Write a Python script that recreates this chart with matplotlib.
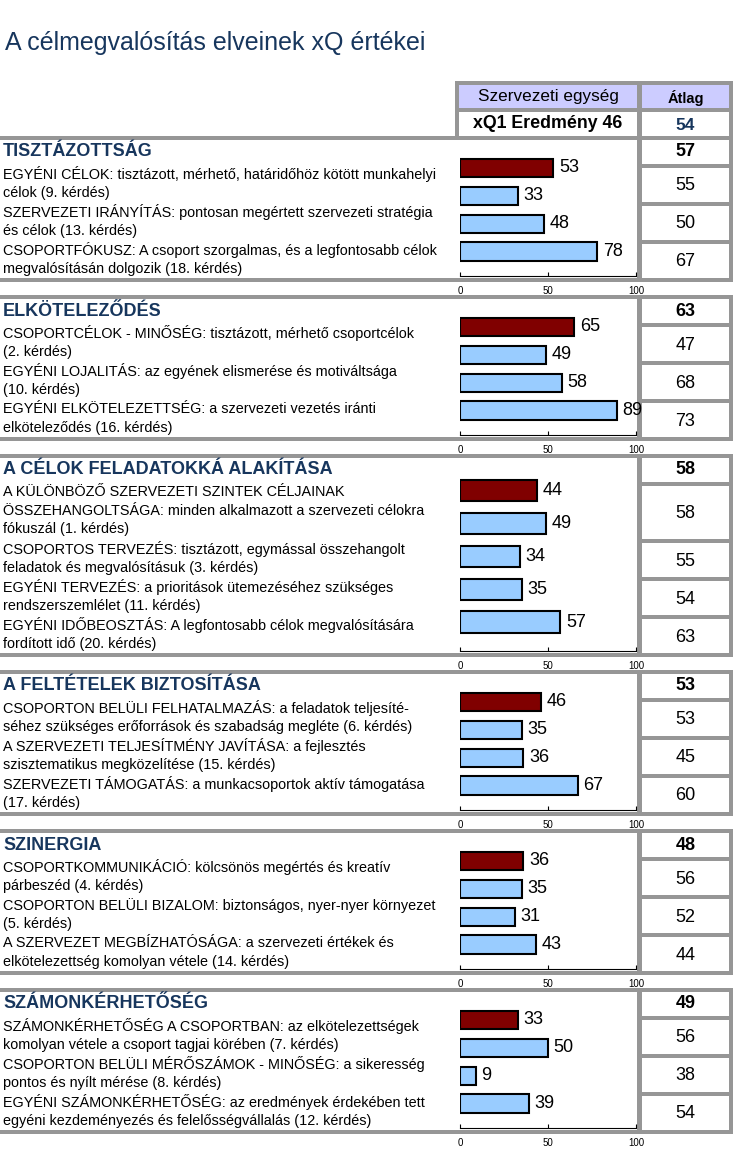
import matplotlib
matplotlib.use('Agg')
import matplotlib.pyplot as plt
from matplotlib.patches import Rectangle

plt.rcParams['font.family'] = ['Liberation Sans', 'DejaVu Sans']

# ---------------- data ----------------
chart_title = "A célmegvalósítás elveinek xQ értékei"
header_unit = "Szervezeti egység"
header_avg = "Átlag"
header_result = "xQ1 Eredmény 46"
overall_avg = 54

section_titles = [
    "TISZTÁZOTTSÁG",
    "ELKÖTELEZŐDÉS",
    "A CÉLOK FELADATOKKÁ ALAKÍTÁSA",
    "A FELTÉTELEK BIZTOSÍTÁSA",
    "SZINERGIA",
    "SZÁMONKÉRHETŐSÉG",
]
section_avgs = [57, 63, 58, 53, 48, 49]

item_texts = [
    [["EGYÉNI CÉLOK: tisztázott, mérhető, határidőhöz kötött munkahelyi", "célok (9. kérdés)"],
     ["SZERVEZETI IRÁNYÍTÁS: pontosan megértett szervezeti stratégia", "és célok (13. kérdés)"],
     ["CSOPORTFÓKUSZ: A csoport szorgalmas, és a legfontosabb célok", "megvalósításán dolgozik (18. kérdés)"]],
    [["CSOPORTCÉLOK - MINŐSÉG: tisztázott, mérhető csoportcélok", "(2. kérdés)"],
     ["EGYÉNI LOJALITÁS: az egyének elismerése és motiváltsága", "(10. kérdés)"],
     ["EGYÉNI ELKÖTELEZETTSÉG: a szervezeti vezetés iránti", "elköteleződés (16. kérdés)"]],
    [["A KÜLÖNBÖZŐ SZERVEZETI SZINTEK CÉLJAINAK", "ÖSSZEHANGOLTSÁGA: minden alkalmazott a szervezeti célokra", "fókuszál (1. kérdés)"],
     ["CSOPORTOS TERVEZÉS: tisztázott, egymással összehangolt", "feladatok és megvalósításuk (3. kérdés)"],
     ["EGYÉNI TERVEZÉS: a prioritások ütemezéséhez szükséges", "rendszerszemlélet (11. kérdés)"],
     ["EGYÉNI IDŐBEOSZTÁS: A legfontosabb célok megvalósítására", "fordított idő (20. kérdés)"]],
    [["CSOPORTON BELÜLI FELHATALMAZÁS: a feladatok teljesíté-", "séhez szükséges erőforrások és szabadság megléte (6. kérdés)"],
     ["A SZERVEZETI TELJESÍTMÉNY JAVÍTÁSA: a fejlesztés", "szisztematikus megközelítése (15. kérdés)"],
     ["SZERVEZETI TÁMOGATÁS: a munkacsoportok aktív támogatása", "(17. kérdés)"]],
    [["CSOPORTKOMMUNIKÁCIÓ: kölcsönös megértés és kreatív", "párbeszéd (4. kérdés)"],
     ["CSOPORTON BELÜLI BIZALOM: biztonságos, nyer-nyer környezet", "(5. kérdés)"],
     ["A SZERVEZET MEGBÍZHATÓSÁGA: a szervezeti értékek és", "elkötelezettség komolyan vétele (14. kérdés)"]],
    [["SZÁMONKÉRHETŐSÉG A CSOPORTBAN: az elkötelezettségek", "komolyan vétele a csoport tagjai körében (7. kérdés)"],
     ["CSOPORTON BELÜLI MÉRŐSZÁMOK - MINŐSÉG: a sikeresség", "pontos és nyílt mérése (8. kérdés)"],
     ["EGYÉNI SZÁMONKÉRHETŐSÉG: az eredmények érdekében tett", "egyéni kezdeményezés és felelősségvállalás (12. kérdés)"]],
]
item_avgs = [
    [55, 50, 67],
    [47, 68, 73],
    [58, 55, 54, 63],
    [53, 45, 60],
    [56, 52, 44],
    [56, 38, 54],
]
bar_values = [
    [53, 33, 48, 78],
    [65, 49, 58, 89],
    [44, 49, 34, 35, 57],
    [46, 35, 36, 67],
    [36, 35, 31, 43],
    [33, 50, 9, 39],
]
axis_ticks = [0, 50, 100]

# ---------------- style / layout ----------------
W, H = 752, 1166
GRAY = '#969696'
NAVY = '#17365D'
LAV = '#CCCCFF'
RED = '#800000'
BLUE = '#99CCFF'
B = 4          # border thickness (px)
HEAD_H = 24
LINE_H = 18.5
X_SEP = 637    # separator between bar area and average column
X_COL0, X_COL1 = 642, 729
X_RIGHT = 733
BAR_X0, BAR_X1 = 460, 636

fig = plt.figure(figsize=(W / 100, H / 100), dpi=100)
bg = fig.add_axes([0, 0, 1, 1], zorder=0)
bg.set_xlim(0, W)
bg.set_ylim(H, 0)
bg.axis('off')


def rect(x0, y0, x1, y1, color, z=1):
    bg.add_patch(Rectangle((x0, y0), x1 - x0, y1 - y0, facecolor=color,
                           edgecolor='none', zorder=z))


def px_axes(x0, y0, x1, y1, z=2):
    return fig.add_axes([x0 / W, 1 - y1 / H, (x1 - x0) / W, (y1 - y0) / H], zorder=z)


# title
bg.text(5, 43, chart_title, fontsize=18, color=NAVY, va='center', ha='left')

# header block
rect(455, 81, X_RIGHT, 140, GRAY)
rect(459, 85, X_SEP, 108, LAV, 2)
rect(X_COL0, 85, X_COL1, 108, LAV, 2)
rect(459, 112, X_SEP, 136, 'white', 2)
rect(X_COL0, 112, X_COL1, 136, 'white', 2)
bg.text((459 + X_SEP) / 2, 97, header_unit, fontsize=12.3, ha='center', va='center', zorder=3)
bg.text((X_COL0 + X_COL1) / 2, 97.5, header_avg, fontsize=10.5, fontweight='bold',
        ha='center', va='center', zorder=3)
bg.text((459 + X_SEP) / 2, 124, header_result, fontsize=12.8, fontweight='bold',
        ha='center', va='center', zorder=3)
bg.text((X_COL0 + X_COL1) / 2, 125, str(overall_avg), fontsize=12.5, fontweight='bold',
        color=NAVY, ha='center', va='center', zorder=3)

top = 136
for s in range(len(section_titles)):
    items = item_texts[s]
    heights = [34 if len(t) == 2 else 53 for t in items]
    total = B + HEAD_H + sum(B + h for h in heights) + B
    bottom = top + total
    # frame
    rect(0, top, X_RIGHT, bottom, GRAY)
    rect(0, top + B, X_SEP, bottom - B, 'white', 2)
    # header row
    y = top + B
    rect(X_COL0, y, X_COL1, y + HEAD_H, 'white', 2)
    cy = y + HEAD_H / 2
    bg.text(3, cy, section_titles[s], fontsize=13, fontweight='bold', color=NAVY,
            ha='left', va='center', zorder=3)
    bg.text((X_COL0 + X_COL1) / 2, cy, str(section_avgs[s]), fontsize=13,
            fontweight='bold', ha='center', va='center', zorder=3)
    y += HEAD_H
    for i, lines in enumerate(items):
        y += B
        h = heights[i]
        rect(X_COL0, y, X_COL1, y + h, 'white', 2)
        cy = y + h / 2
        n = len(lines)
        for k, ln in enumerate(lines):
            ly = cy + (k - (n - 1) / 2) * LINE_H - 1.5
            bg.text(3, ly, ln, fontsize=10.4, ha='left', va='center', zorder=3)
        bg.text((X_COL0 + X_COL1) / 2, cy + 1, str(item_avgs[s][i]), fontsize=13,
                ha='center', va='center', zorder=3)
        y += h

    # bar chart for this section
    vals = bar_values[s]
    nb = len(vals)
    ax = px_axes(BAR_X0, top + B, BAR_X1, bottom - 6)
    ax.patch.set_alpha(0)
    colors = [RED] + [BLUE] * (nb - 1)
    pos = list(range(nb))
    ax.barh(pos, vals, height=0.65, color=colors, edgecolor='black', linewidth=1.5, zorder=3)
    for p, v in zip(pos, vals):
        ax.annotate(str(v), (v, p), xytext=(4, 0), textcoords='offset points',
                    fontsize=13, va='center', ha='left', annotation_clip=False, zorder=4)
    ax.set_xlim(0, 100)
    ax.set_ylim(nb - 1 + 0.88, -1.0)
    ax.set_xticks(axis_ticks)
    ax.set_xticklabels([str(t) for t in axis_ticks])
    ax.set_yticks([])
    for side in ('top', 'left', 'right'):
        ax.spines[side].set_visible(False)
    ax.spines['bottom'].set_linewidth(0.8)
    ax.tick_params(axis='x', direction='in', length=3, width=0.8, pad=7.5,
                   labelsize=7)

    top = bottom + 13

fig.savefig('out.png', dpi=100)
